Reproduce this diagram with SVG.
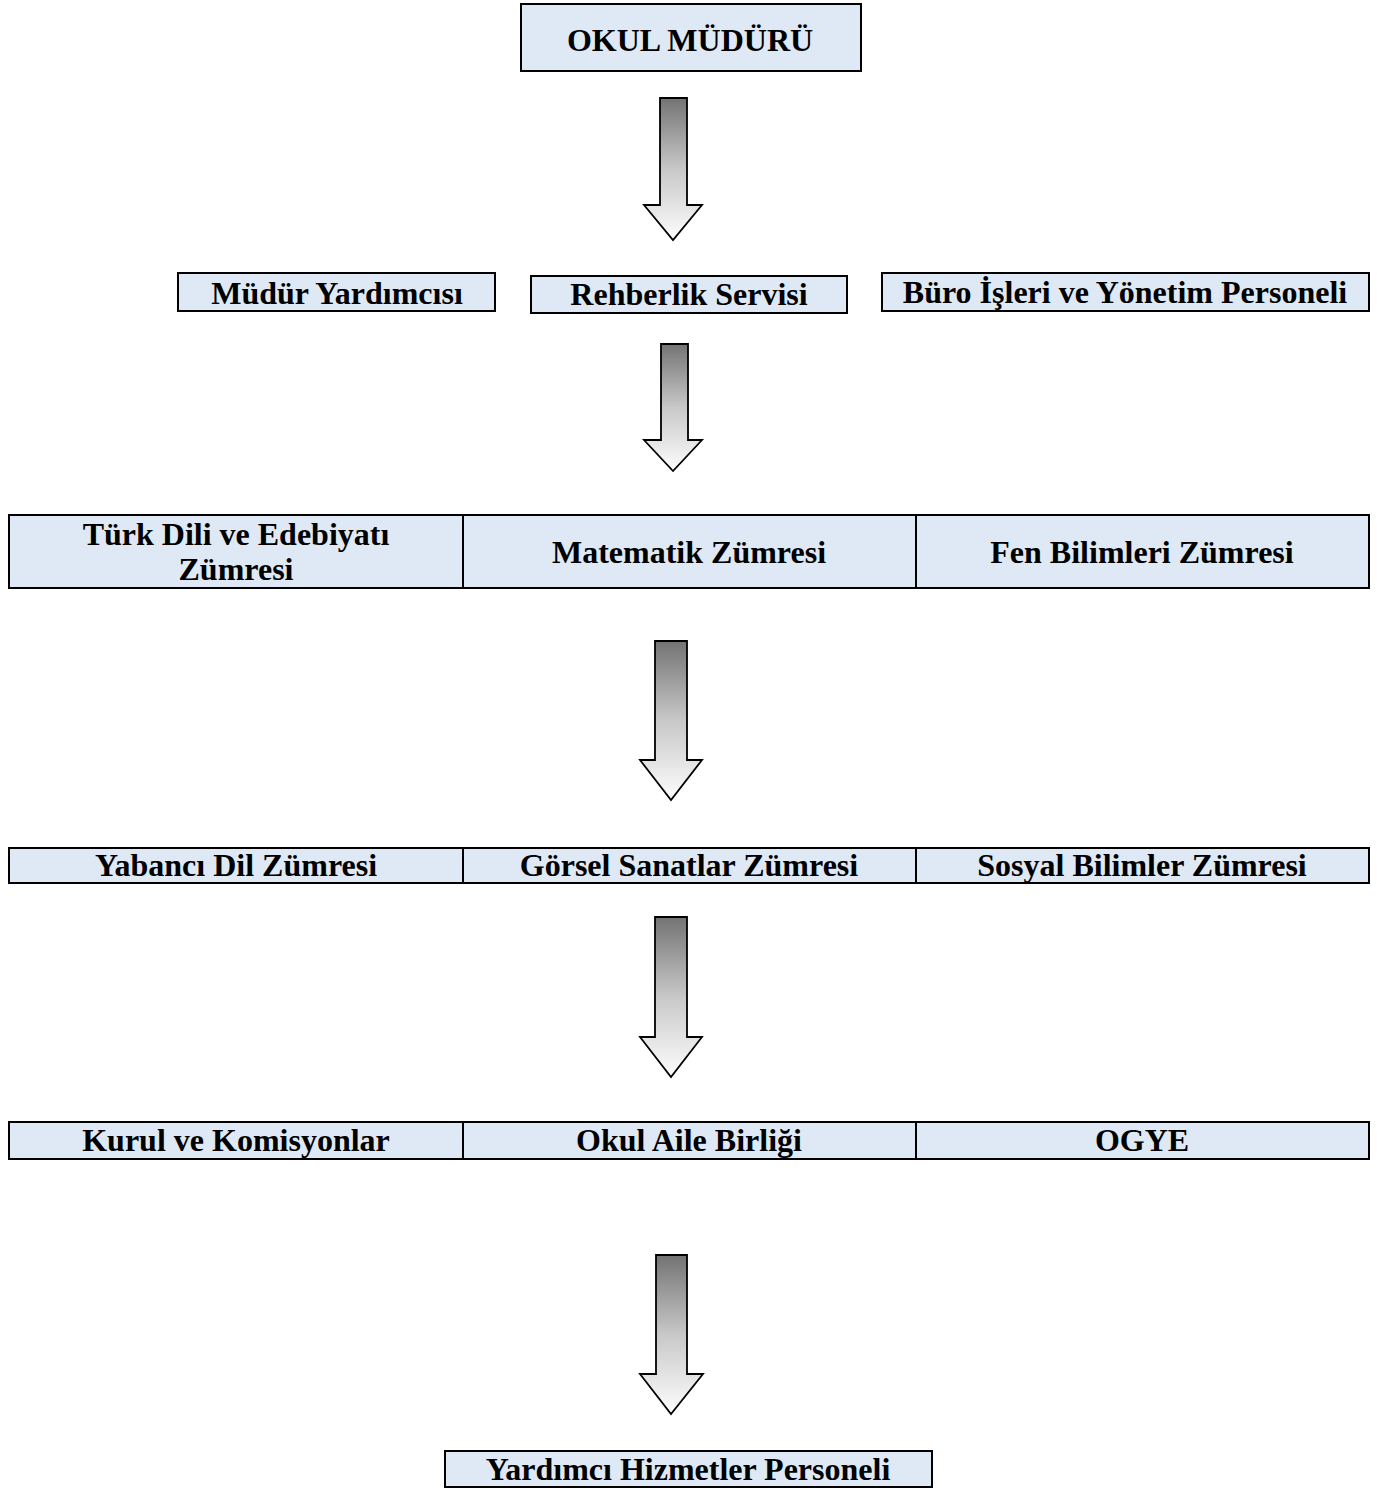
<svg xmlns="http://www.w3.org/2000/svg" width="1377" height="1488" viewBox="0 0 1377 1488">
<style>
.box{fill:#DEE9F5;stroke:#000;stroke-width:2}
.t{font-family:"Liberation Serif","Times New Roman",serif;font-weight:bold;font-size:32px;fill:#000;text-anchor:middle}
.arr{fill:url(#g);stroke:#000;stroke-width:1.8;stroke-linejoin:miter}
</style>
<defs>
<linearGradient id="g" x1="0" y1="0" x2="0" y2="1">
<stop offset="0" stop-color="#737373"/>
<stop offset="0.5" stop-color="#c8c8c8"/>
<stop offset="1" stop-color="#fdfdfd"/>
</linearGradient>
</defs>
<rect width="1377" height="1488" fill="#fff"/>
<g id="okul-muduru"><rect class="box" x="521" y="4" width="340" height="67"/><text class="t" x="690" y="51">OKUL MÜDÜRÜ</text></g>
<g id="mudur-yardimcisi"><rect class="box" x="178" y="273" width="317" height="38"/><text class="t" x="337" y="304">Müdür Yardımcısı</text></g>
<g id="rehberlik"><rect class="box" x="531" y="276" width="316" height="37"/><text class="t" x="689" y="305">Rehberlik Servisi</text></g>
<g id="buro"><rect class="box" x="882" y="273" width="487" height="38"/><text class="t" x="1125" y="303">Büro İşleri ve Yönetim Personeli</text></g>
<g id="turk-dili"><rect class="box" x="9" y="515" width="454" height="73"/><text class="t" x="236" y="545">Türk Dili ve Edebiyatı</text><text class="t" x="236" y="580">Zümresi</text></g>
<g id="matematik"><rect class="box" x="463" y="515" width="453" height="73"/><text class="t" x="689" y="563">Matematik Zümresi</text></g>
<g id="fen"><rect class="box" x="916" y="515" width="453" height="73"/><text class="t" x="1142" y="563">Fen Bilimleri Zümresi</text></g>
<g id="yabanci-dil"><rect class="box" x="9" y="848" width="454" height="35"/><text class="t" x="236" y="876">Yabancı Dil Zümresi</text></g>
<g id="gorsel"><rect class="box" x="463" y="848" width="453" height="35"/><text class="t" x="689" y="876">Görsel Sanatlar Zümresi</text></g>
<g id="sosyal"><rect class="box" x="916" y="848" width="453" height="35"/><text class="t" x="1142" y="876">Sosyal Bilimler Zümresi</text></g>
<g id="kurul"><rect class="box" x="9" y="1122" width="454" height="37"/><text class="t" x="236" y="1151">Kurul ve Komisyonlar</text></g>
<g id="okul-aile"><rect class="box" x="463" y="1122" width="453" height="37"/><text class="t" x="689" y="1151">Okul Aile Birliği</text></g>
<g id="ogye"><rect class="box" x="916" y="1122" width="453" height="37"/><text class="t" x="1142" y="1151">OGYE</text></g>
<g id="yardimci"><rect class="box" x="445" y="1451" width="487" height="36"/><text class="t" x="688" y="1480">Yardımcı Hizmetler Personeli</text></g>
<g id="connectors">
<path class="arr" d="M660,98 H687 V205 H702 L673,240 L644,205 H660 Z"/>
<path class="arr" d="M661,344 H688 V440 H702 L673,471 L644,440 H661 Z"/>
<path class="arr" d="M655,641 H687 V760 H702 L671,800 L640,760 H655 Z"/>
<path class="arr" d="M655,917 H687 V1037 H702 L671,1077 L640,1037 H655 Z"/>
<path class="arr" d="M656,1255 H687 V1374 H703 L671,1414 L640,1374 H656 Z"/>
</g>
</svg>
